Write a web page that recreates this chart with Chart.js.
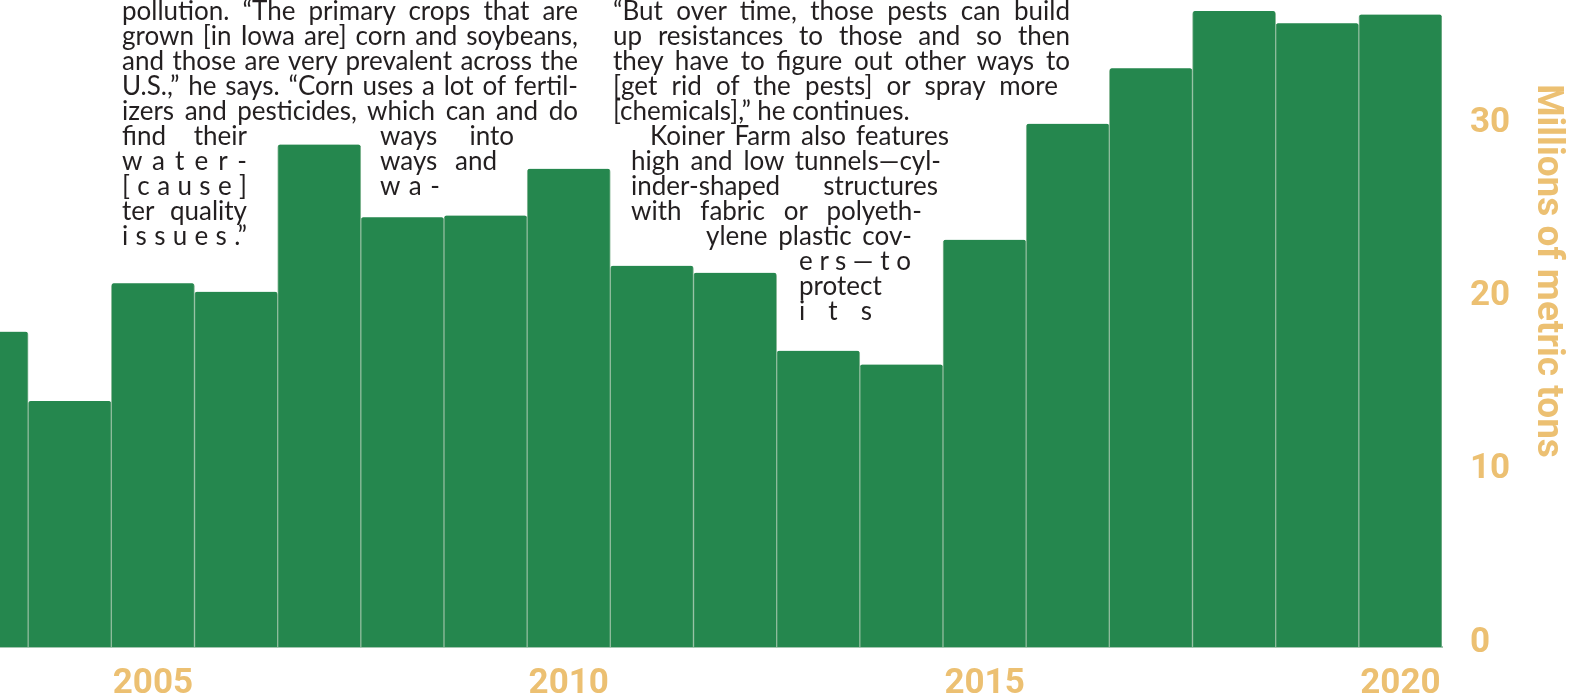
<!DOCTYPE html>
<html>
<head>
<meta charset="utf-8">
<script src="https://cdn.jsdelivr.net/npm/chart.js@4"></script>
<style>
  html, body { margin: 0; width: 1579px; height: 696px; overflow: hidden; background: #fff; }
  #chartBox { position: absolute; left: -55px; top: -105px; }
  .ln {
    position: absolute; font-family: Lato, sans-serif; font-size: 26px; line-height: 25px;
    color: #231f20; white-space: nowrap; text-align: justify; text-align-last: justify;
  }
  .ln.plain { text-align: left; text-align-last: left; }
</style>
</head>
<body>
<div id="chartBox"><canvas id="cropChart" width="1628" height="812"></canvas></div>
<div id="copy"></div>
<script>
// data
const years = [2003, 2004, 2005, 2006, 2007, 2008, 2009, 2010, 2011, 2012,
               2013, 2014, 2015, 2016, 2017, 2018, 2019, 2020];
const tons = [18.2, 14.2, 21.0, 20.5, 29.0, 24.8, 24.9, 27.6, 22.0, 21.6,
              17.1, 16.3, 23.5, 30.2, 33.4, 36.7, 36.0, 36.5];
const yTicks = [0, 10, 20, 30];
const yTitle = 'Millions of metric tons';

const green = '#25874e';
const gold = '#ecc072';
const axisFont = { family: 'Roboto, sans-serif', size: 35, weight: 'bold' };

// the magazine text running round the bars: [text, left, row, width, justified]
const lines = [
    ['pollution. “The primary crops that are', 122, 0, 456, true],
    ['grown [in Iowa are] corn and soybeans,', 122, 1, 456, true],
    ['and those are very prevalent across the', 122, 2, 456, true],
    ['U.S.,” he says. “Corn uses a lot of fertil-', 122, 3, 456, true],
    ['izers and pesticides, which can and do', 122, 4, 456, true],
    ['find their', 122, 5, 125, true],
    ['w a t e r -', 122, 6, 125, true],
    ['[ c a u s e ]', 122, 7, 125, true],
    ['ter quality', 122, 8, 125, true],
    ['i s s u e s .”', 122, 9, 125, true],
    ['ways into', 380, 5, 134, true],
    ['ways and', 380, 6, 117, true],
    ['w a -', 380, 7, 60, true],
    ['“But over time, those pests can build', 613, 0, 457, true],
    ['up resistances to those and so then', 613, 1, 457, true],
    ['they have to figure out other ways to', 613, 2, 457, true],
    ['[get rid of the pests] or spray more', 613, 3, 445, true],
    ['[chemicals],” he continues.', 613, 4, 0, false],
    ['Koiner Farm also features', 650, 5, 299, true],
    ['high and low tunnels—cyl-', 631, 6, 310, true],
    ['inder-shaped structures', 631, 7, 307, true],
    ['with fabric or polyeth-', 631, 8, 291, true],
    ['ylene plastic cov-', 706, 9, 206, true],
    ['e r s — t o', 799, 10, 100, true],
    ['protect', 799, 11, 0, false],
    ['i t s', 799, 12, 73, true]
];

const copy = document.getElementById('copy');
lines.forEach(l => {
    const d = document.createElement('div');
    d.className = l[4] ? 'ln' : 'ln plain';
    d.textContent = l[0];
    d.style.left = l[1] + 'px';
    d.style.top = (l[2] * 25 - 2) + 'px';
    if (l[3]) d.style.width = l[3] + 'px';
    copy.appendChild(d);
});

const ctx = document.getElementById('cropChart').getContext('2d');
const cropChart = new Chart(ctx, {
    type: 'bar',
    data: {
        labels: years,
        datasets: [{
            data: tons,
            backgroundColor: green,
            borderColor: '#8dbb9b',
            borderWidth: { left: 1, right: 1, top: 0, bottom: 0 },
            borderSkipped: 'bottom',
            borderRadius: { topLeft: 3, topRight: 3 },
            categoryPercentage: 1,
            barPercentage: 1
        }]
    },
    options: {
        responsive: false,
        animation: false,
        layout: { padding: 0 },
        plugins: { legend: { display: false }, tooltip: { enabled: false } },
        scales: {
            x: {
                grid: { display: false, drawTicks: false },
                border: { display: true, color: '#a4c6b0', width: 2 },
                ticks: {
                    autoSkip: false,
                    maxRotation: 0,
                    padding: 16,
                    color: gold,
                    font: axisFont,
                    callback: (v, i) => (years[i] % 5 === 0 ? String(years[i]) : '')
                },
                afterFit: s => {
                    s.height = 60;
                    s.paddingLeft = 0;
                    s.paddingRight = 0;
                }
            },
            y: {
                position: 'right',
                min: 0,
                max: 43.4,
                grid: { display: false, drawTicks: false },
                border: { display: false },
                ticks: {
                    stepSize: 10,
                    padding: 28,
                    labelOffset: -4,
                    color: gold,
                    font: axisFont,
                    callback: v => (yTicks.includes(v) ? String(v) : '')
                },
                title: {
                    display: true,
                    text: yTitle,
                    color: gold,
                    font: { family: 'Roboto, sans-serif', size: 37, weight: 'bold' },
                    padding: { top: 4, bottom: 0 }
                },
                afterFit: s => {
                    s.width = 131;
                    s.paddingTop = 0;
                    s.paddingBottom = 0;
                }
            }
        }
    }
});
</script>
</body>
</html>
